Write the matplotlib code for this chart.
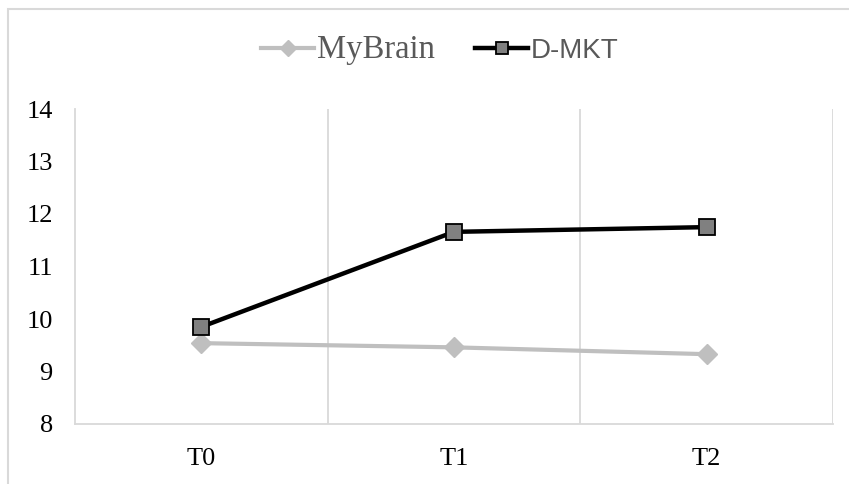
import numpy as np
import matplotlib.pyplot as plt
from matplotlib.patches import Rectangle

# values
categories = ["T0", "T1", "T2"]
mybrain = [9.54, 9.46, 9.33]
dmkt = [9.85, 11.66, 11.75]
yticks = [8, 9, 10, 11, 12, 13, 14]

fig = plt.figure(figsize=(8.49, 4.84), dpi=100)
ax = fig.add_axes([75/849, 1-424/484, (833-75)/849, (424-109)/484])

x = np.arange(len(categories))
l1, = ax.plot(x, mybrain, color='#bfbfbf', lw=3, marker='D', ms=10,
              mfc='#bfbfbf', mec='#bfbfbf', zorder=3)
l2, = ax.plot(x, dmkt, color='black', lw=3.2, marker='s', ms=11,
              mfc='#808080', mec='black', mew=1.3, zorder=4)

ax.set_xlim(-0.5, 2.5)
ax.set_ylim(8, 14)
ax.set_yticks(yticks)
ax.set_xticks(x)
ax.set_xticklabels(categories)
ax.set_xticks([0.5, 1.5, 2.5], minor=True)
ax.grid(True, which='minor', axis='x', color='#d9d9d9', lw=1.3)
ax.tick_params(which='both', length=0)
ax.tick_params(axis='y', pad=16)
ax.tick_params(axis='x', pad=17)
for lab in ax.get_xticklabels() + ax.get_yticklabels():
    lab.set_fontfamily('Liberation Serif')
    lab.set_fontsize(19)
for s in ['top', 'right']:
    ax.spines[s].set_visible(False)
for s in ['left', 'bottom']:
    ax.spines[s].set_color('#d9d9d9')
    ax.spines[s].set_linewidth(1.3)

leg = fig.legend([l1, l2], ["MyBrain", "D-MKT"], loc='center',
                 bbox_to_anchor=(440/849, 1-50/484), ncol=2, frameon=False,
                 fontsize=21, handlelength=1.8, columnspacing=1.4,
                 handletextpad=0.1, markerscale=0.85)
leg.get_texts()[0].set_fontfamily('Liberation Serif')
leg.get_texts()[0].set_fontsize(23.5)
leg.get_texts()[1].set_fontfamily('Liberation Sans')
leg.get_texts()[1].set_fontsize(20)
for t in leg.get_texts():
    t.set_color('#595959')

fig.patches.append(Rectangle((8/849, -0.2), 1.2, 1.2 - 9/484, transform=fig.transFigure,
                             fill=False, edgecolor='#d9d9d9', lw=1.5))

fig.savefig('out.png', dpi=100)
